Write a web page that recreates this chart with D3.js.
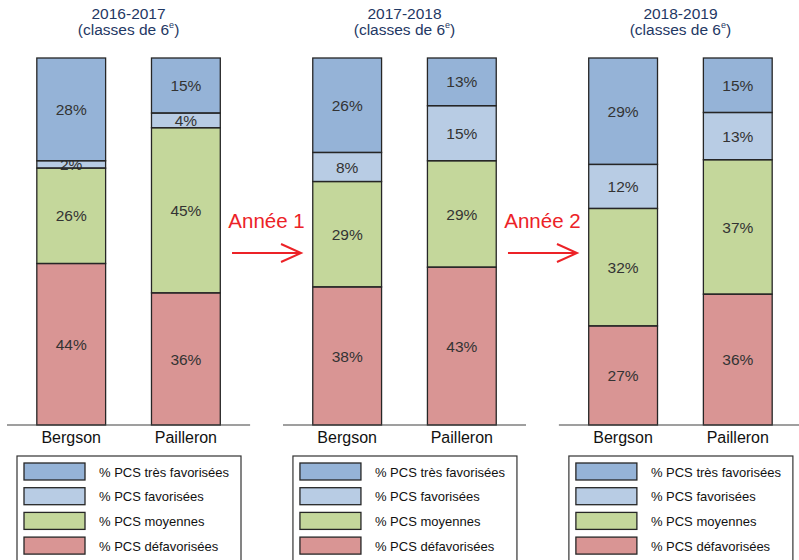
<!DOCTYPE html>
<html><head><meta charset="utf-8">
<script src="https://cdn.jsdelivr.net/npm/d3@7"></script>
<style>body{margin:0;background:#fff}svg{display:block;font-family:Arial,"Liberation Sans",sans-serif}</style>
</head><body><svg id="c" width="799" height="560"></svg>
<script>
const years = ["2016-2017", "2017-2018", "2018-2019"];
const schools = ["Bergson", "Pailleron"];
const categories = ["% PCS défavorisées", "% PCS moyennes", "% PCS favorisées", "% PCS très favorisées"];
const colors = ["#d99594", "#c4d79b", "#b8cce4", "#95b3d7"];
// values per year, per school, in category order (défavorisées, moyennes, favorisées, très favorisées)
const bergson = [[44, 26, 2, 28], [38, 29, 8, 26], [27, 32, 12, 29]];
const pailleron = [[36, 45, 4, 15], [43, 29, 15, 13], [36, 37, 13, 15]];
const arrowLabels = ["Année 1", "Année 2"];
const legendOrder = [3, 2, 1, 0];

const svg = d3.select("#c");
const x0 = d3.scaleBand().domain(years).range([7, 802]).paddingInner(0.119).paddingOuter(0);
const x1 = d3.scaleBand().domain(schools).range([0, x0.bandwidth()]).paddingInner(0.4).paddingOuter(0.26);
const y = d3.scaleLinear().domain([0, 1]).range([425, 58]);
const color = d3.scaleOrdinal().domain(categories).range(colors);

const data = [];
years.forEach((yr, i) => {
  [bergson[i], pailleron[i]].forEach((vals, j) => {
    const total = d3.sum(vals);
    let cum = 0;
    vals.forEach((v, k) => {
      data.push({year: yr, school: schools[j], cat: categories[k], v, y0: cum / total, y1: (cum + v) / total});
      cum += v;
    });
  });
});

const bx = d => x0(d.year) + x1(d.school);

// fills
svg.append("g").selectAll("rect").data(data).join("rect")
  .attr("x", bx).attr("width", x1.bandwidth())
  .attr("y", d => y(d.y1)).attr("height", d => y(d.y0) - y(d.y1))
  .attr("fill", d => color(d.cat));
// labels
svg.append("g").selectAll("text").data(data).join("text")
  .attr("x", d => bx(d) + x1.bandwidth() / 2)
  .attr("y", d => (y(d.y0) + y(d.y1)) / 2)
  .attr("dy", "0.36em").attr("text-anchor", "middle")
  .attr("font-size", 15.5).attr("fill", "#333")
  .text(d => d.v + "%");
// borders
svg.append("g").selectAll("rect").data(data).join("rect")
  .attr("x", bx).attr("width", x1.bandwidth())
  .attr("y", d => y(d.y1)).attr("height", d => y(d.y0) - y(d.y1))
  .attr("fill", "none").attr("stroke", "#262626").attr("stroke-width", 1.3);

years.forEach((yr, i) => {
  const g = svg.append("g").attr("transform", `translate(${x0(yr)},0)`);
  // baseline
  g.append("line").attr("x1", 0).attr("x2", x0.bandwidth()).attr("y1", y(0)).attr("y2", y(0))
    .attr("stroke", "#404040").attr("stroke-width", 1.2);
  // school labels
  g.selectAll("text.sch").data(schools).join("text").attr("class", "sch")
    .attr("x", s => x1(s) + x1.bandwidth() / 2).attr("y", 443)
    .attr("text-anchor", "middle").attr("font-size", 16).attr("fill", "#111").text(s => s);
  // title
  const cx = x0.bandwidth() / 2;
  g.append("text").attr("x", cx).attr("y", 18.5).attr("text-anchor", "middle")
    .attr("font-size", 15.5).attr("fill", "#1f3864").text(yr);
  const t2 = g.append("text").attr("x", cx).attr("y", 35).attr("text-anchor", "middle")
    .attr("font-size", 15.5).attr("fill", "#1f3864");
  t2.append("tspan").text("(classes de 6");
  t2.append("tspan").attr("font-size", 9).attr("dy", -7).text("e");
  t2.append("tspan").attr("dy", 7).text(")");
  // legend
  const lg = g.append("g").attr("transform", "translate(10,456)");
  lg.append("rect").attr("x", 0).attr("y", 0).attr("width", 224).attr("height", 120)
    .attr("fill", "#fff").attr("stroke", "#333").attr("stroke-width", 1.2);
  legendOrder.forEach((k, r) => {
    lg.append("rect").attr("x", 7).attr("y", 7 + r * 24.7).attr("width", 61).attr("height", 17)
      .attr("fill", colors[k]).attr("stroke", "#262626").attr("stroke-width", 1.3);
    lg.append("text").attr("x", 82).attr("y", 20.5 + r * 24.7).attr("font-size", 13)
      .attr("fill", "#111").text(categories[k]);
  });
});

// arrows between panels
arrowLabels.forEach((lab, i) => {
  const left = x0(years[i]) + x1("Pailleron") + x1.bandwidth();
  const right = x0(years[i + 1]) + x1("Bergson");
  const cx = (left + right) / 2;
  const g = svg.append("g").attr("stroke", "#ec2227").attr("fill", "none");
  g.append("text").attr("x", cx).attr("y", 228).attr("text-anchor", "middle")
    .attr("font-size", 20.5).attr("fill", "#ec2227").attr("stroke", "none").text(lab);
  const x1a = cx - 34.5, x2a = cx + 34.5, ya = 253;
  g.append("line").attr("x1", x1a).attr("x2", x2a).attr("y1", ya).attr("y2", ya).attr("stroke-width", 2);
  g.append("path").attr("d", `M${x2a - 20},${ya - 9}L${x2a},${ya}L${x2a - 20},${ya + 9}`).attr("stroke-width", 2);
});
</script></body></html>
